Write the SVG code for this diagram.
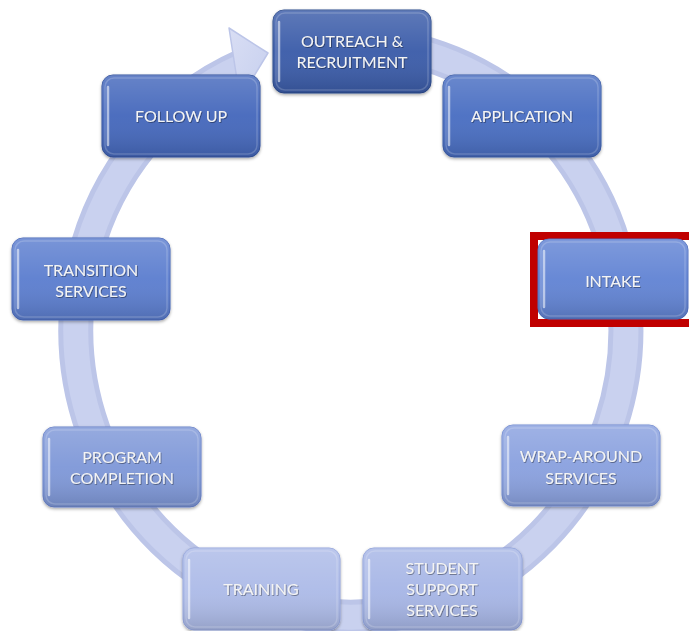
<svg xmlns="http://www.w3.org/2000/svg" width="689" height="631" viewBox="0 0 689 631">
<style>
.box{stroke-width:1}
.gloss{fill:url(#gloss)}
.hl{stroke:#ffffff;stroke-opacity:0.55;stroke-width:2.5;stroke-linecap:round;fill:none}
.inner{fill:none;stroke:#ffffff;stroke-opacity:0.18;stroke-width:1.5}
.lbl{font-family:Lato,"Open Sans","Liberation Sans",sans-serif;font-size:16px;fill:#f4f4f4;text-anchor:middle;filter:url(#tsh)}
</style>
<defs>
<linearGradient id="gloss" x1="0" y1="0" x2="0" y2="1">
<stop offset="0" stop-color="#ffffff" stop-opacity="0.18"/>
<stop offset="0.5" stop-color="#ffffff" stop-opacity="0.04"/>
<stop offset="1" stop-color="#000000" stop-opacity="0.14"/>
</linearGradient>
<linearGradient id="headg" x1="0" y1="0" x2="1" y2="1">
<stop offset="0" stop-color="#d9def4"/>
<stop offset="1" stop-color="#c6cfee"/>
</linearGradient>
<filter id="tsh" x="-10%" y="-30%" width="120%" height="160%">
<feDropShadow dx="0.8" dy="0.8" stdDeviation="0.6" flood-color="#000000" flood-opacity="0.45"/>
</filter>
<filter id="bsh" x="-10%" y="-10%" width="120%" height="130%">
<feDropShadow dx="0" dy="1.5" stdDeviation="1.5" flood-color="#000000" flood-opacity="0.35"/>
</filter>
</defs>
<rect width="689" height="631" fill="#ffffff"/>

<g id="connectors">
<path d="M 327 44.1 A 275 287 0 1 1 243.5 65.8" fill="none" stroke="#bcc5e8" stroke-width="35"/>
<path d="M 327 44.1 A 275 287 0 1 1 243.5 65.8" fill="none" stroke="#c9d1ef" stroke-width="25"/>
<polygon points="229,28 268,53 240,99" fill="url(#headg)" stroke="#bcc5e8" stroke-width="1.5" stroke-linejoin="round"/>
</g>

<g id="node-outreach">
<rect class="box" x="273" y="10" width="158" height="83" rx="11" fill="#3a5ca9" stroke="#2c4a8c" filter="url(#bsh)"/>
<rect class="gloss" x="273" y="10" width="158" height="83" rx="11"/>
<rect class="inner" x="276" y="13" width="152" height="77" rx="9"/>
<line class="hl" x1="279" y1="22" x2="279" y2="81"/>
<text class="lbl" x="352" y="47">OUTREACH &amp;</text>
<text class="lbl" x="352" y="68">RECRUITMENT</text>
</g>

<g id="node-application">
<rect class="box" x="443" y="75" width="158" height="82" rx="11" fill="#4a6ec2" stroke="#3a5ca8" filter="url(#bsh)"/>
<rect class="gloss" x="443" y="75" width="158" height="82" rx="11"/>
<rect class="inner" x="446" y="78" width="152" height="76" rx="9"/>
<line class="hl" x1="449" y1="87" x2="449" y2="145"/>
<text class="lbl" x="522" y="122">APPLICATION</text>
</g>

<g id="node-intake">
<rect x="534" y="236" width="165" height="87" fill="none" stroke="#c00000" stroke-width="8"/>
<rect class="box" x="538" y="239" width="150" height="80" rx="11" fill="#6284d4" stroke="#4e6fc0"/>
<rect class="gloss" x="538" y="239" width="150" height="80" rx="11"/>
<rect class="inner" x="541" y="242" width="144" height="74" rx="9"/>
<line class="hl" x1="544" y1="251" x2="544" y2="307"/>
<text class="lbl" x="613" y="287">INTAKE</text>
</g>

<g id="node-wrap">
<rect class="box" x="502" y="425" width="158" height="81" rx="11" fill="#8aa1df" stroke="#748dd2" filter="url(#bsh)"/>
<rect class="gloss" x="502" y="425" width="158" height="81" rx="11"/>
<rect class="inner" x="505" y="428" width="152" height="75" rx="9"/>
<line class="hl" x1="508" y1="437" x2="508" y2="494"/>
<text class="lbl" x="581" y="462">WRAP-AROUND</text>
<text class="lbl" x="581" y="484">SERVICES</text>
</g>

<g id="node-student">
<rect class="box" x="363" y="548" width="159" height="82" rx="11" fill="#a7b6e6" stroke="#8fa1da" filter="url(#bsh)"/>
<rect class="gloss" x="363" y="548" width="159" height="82" rx="11"/>
<rect class="inner" x="366" y="551" width="153" height="76" rx="9"/>
<line class="hl" x1="369" y1="560" x2="369" y2="618"/>
<text class="lbl" x="442" y="574">STUDENT</text>
<text class="lbl" x="442" y="595">SUPPORT</text>
<text class="lbl" x="442" y="616">SERVICES</text>
</g>

<g id="node-training">
<rect class="box" x="183" y="548" width="157" height="82" rx="11" fill="#adbbe8" stroke="#94a5dc" filter="url(#bsh)"/>
<rect class="gloss" x="183" y="548" width="157" height="82" rx="11"/>
<rect class="inner" x="186" y="551" width="151" height="76" rx="9"/>
<line class="hl" x1="189" y1="560" x2="189" y2="618"/>
<text class="lbl" x="261" y="595">TRAINING</text>
</g>

<g id="node-completion">
<rect class="box" x="43" y="427" width="158" height="80" rx="11" fill="#7f98d8" stroke="#6982c9" filter="url(#bsh)"/>
<rect class="gloss" x="43" y="427" width="158" height="80" rx="11"/>
<rect class="inner" x="46" y="430" width="152" height="74" rx="9"/>
<line class="hl" x1="49" y1="439" x2="49" y2="495"/>
<text class="lbl" x="122" y="463">PROGRAM</text>
<text class="lbl" x="122" y="484">COMPLETION</text>
</g>

<g id="node-transition">
<rect class="box" x="12" y="238" width="158" height="82" rx="11" fill="#5c7ecf" stroke="#4968ba" filter="url(#bsh)"/>
<rect class="gloss" x="12" y="238" width="158" height="82" rx="11"/>
<rect class="inner" x="15" y="241" width="152" height="76" rx="9"/>
<line class="hl" x1="18" y1="250" x2="18" y2="308"/>
<text class="lbl" x="91" y="276">TRANSITION</text>
<text class="lbl" x="91" y="297">SERVICES</text>
</g>

<g id="node-followup">
<rect class="box" x="102" y="75" width="158" height="82" rx="11" fill="#4467bc" stroke="#35559f" filter="url(#bsh)"/>
<rect class="gloss" x="102" y="75" width="158" height="82" rx="11"/>
<rect class="inner" x="105" y="78" width="152" height="76" rx="9"/>
<line class="hl" x1="108" y1="87" x2="108" y2="145"/>
<text class="lbl" x="181" y="122">FOLLOW UP</text>
</g>
</svg>
